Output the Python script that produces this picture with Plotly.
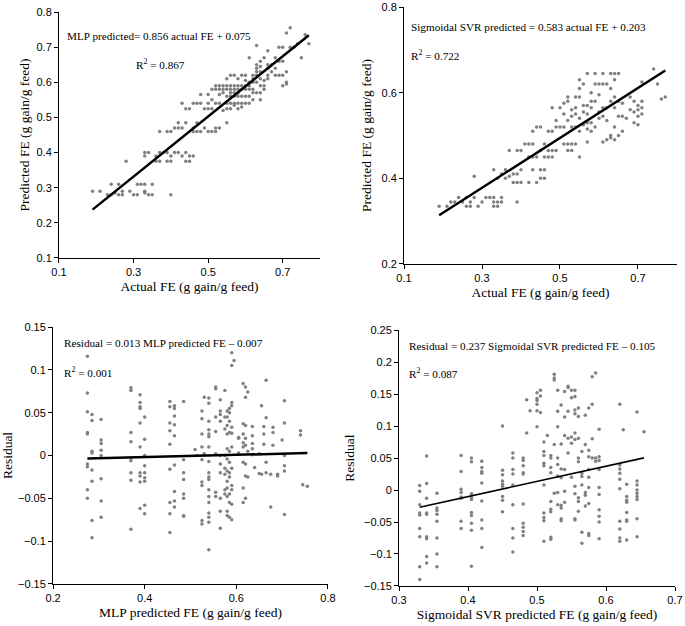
import plotly.graph_objects as go

# ---- data ----
# top-left: actual FE vs MLP predicted FE
mlp_actual = [0.19, 0.21, 0.24, 0.26, 0.23, 0.24, 0.25, 0.26, 0.27, 0.28, 0.29, 0.30, 0.31, 0.32, 0.33,
              0.33, 0.34, 0.35, 0.35, 0.40, 0.27, 0.33, 0.31, 0.33, 0.34, 0.33, 0.36, 0.37, 0.38, 0.39,
              0.36, 0.37, 0.39, 0.40, 0.37, 0.39, 0.40, 0.41, 0.42, 0.43, 0.42, 0.44, 0.41, 0.40, 0.42,
              0.43, 0.44, 0.45, 0.46, 0.44, 0.45, 0.43, 0.44, 0.45, 0.46, 0.47, 0.48, 0.46, 0.47, 0.46,
              0.47, 0.48, 0.48, 0.49, 0.50, 0.51, 0.49, 0.50, 0.51, 0.52, 0.52, 0.53, 0.50, 0.51, 0.52,
              0.53, 0.50, 0.51, 0.52, 0.53, 0.52, 0.53, 0.54, 0.55, 0.56, 0.57, 0.58, 0.54, 0.55, 0.56,
              0.57, 0.58, 0.59, 0.55, 0.56, 0.57, 0.58, 0.59, 0.60, 0.55, 0.54, 0.55, 0.56, 0.57, 0.58,
              0.59, 0.60, 0.55, 0.56, 0.57, 0.58, 0.59, 0.60, 0.61, 0.55, 0.56, 0.58, 0.59, 0.61, 0.60,
              0.61, 0.62, 0.61, 0.62, 0.63, 0.62, 0.63, 0.63, 0.64, 0.63, 0.64, 0.63, 0.64, 0.65, 0.61,
              0.63, 0.66, 0.62, 0.63, 0.64, 0.65, 0.64, 0.65, 0.66, 0.67, 0.68, 0.69, 0.69, 0.70, 0.69,
              0.70, 0.71, 0.70, 0.71, 0.71, 0.72, 0.71, 0.72, 0.73, 0.74, 0.75, 0.76, 0.77, 0.65, 0.66,
              0.62, 0.64, 0.66, 0.67, 0.68, 0.68, 0.70, 0.58, 0.57, 0.56, 0.53, 0.54, 0.59, 0.60, 0.61,
              0.57, 0.60, 0.62, 0.64, 0.66]
mlp_pred = [0.29, 0.29, 0.31, 0.31, 0.28, 0.28, 0.285, 0.28, 0.29, 0.375, 0.29, 0.28, 0.31, 0.31, 0.31,
            0.285, 0.28, 0.31, 0.28, 0.28, 0.28, 0.29, 0.28, 0.40, 0.40, 0.39, 0.39, 0.40, 0.40, 0.40,
            0.375, 0.375, 0.375, 0.375, 0.46, 0.46, 0.46, 0.47, 0.47, 0.47, 0.485, 0.485, 0.40, 0.39, 0.40,
            0.39, 0.40, 0.39, 0.39, 0.375, 0.375, 0.54, 0.525, 0.525, 0.46, 0.46, 0.46, 0.47, 0.485, 0.54,
            0.54, 0.54, 0.565, 0.525, 0.525, 0.525, 0.47, 0.46, 0.46, 0.46, 0.47, 0.47, 0.54, 0.55, 0.54,
            0.54, 0.565, 0.58, 0.58, 0.58, 0.59, 0.59, 0.59, 0.59, 0.59, 0.59, 0.59, 0.58, 0.58, 0.58,
            0.58, 0.58, 0.58, 0.61, 0.62, 0.62, 0.61, 0.62, 0.62, 0.485, 0.52, 0.54, 0.54, 0.54, 0.54,
            0.54, 0.54, 0.56, 0.56, 0.56, 0.56, 0.56, 0.56, 0.56, 0.525, 0.525, 0.525, 0.53, 0.54, 0.58,
            0.58, 0.58, 0.60, 0.60, 0.60, 0.61, 0.62, 0.63, 0.63, 0.64, 0.645, 0.65, 0.66, 0.67, 0.67,
            0.705, 0.69, 0.57, 0.57, 0.57, 0.58, 0.59, 0.59, 0.62, 0.63, 0.67, 0.66, 0.70, 0.70, 0.62,
            0.62, 0.63, 0.59, 0.595, 0.60, 0.70, 0.74, 0.755, 0.70, 0.71, 0.67, 0.735, 0.71, 0.605, 0.61,
            0.55, 0.55, 0.65, 0.65, 0.64, 0.62, 0.66, 0.57, 0.57, 0.57, 0.565, 0.57, 0.59, 0.59, 0.59,
            0.535, 0.605, 0.62, 0.61, 0.64]
mlp_slope, mlp_intercept = 0.856, 0.075

# top-right: actual FE vs sigmoidal SVR predicted FE
svr_actual = [0.19, 0.21, 0.22, 0.23, 0.24, 0.25, 0.26, 0.26, 0.27, 0.27, 0.28, 0.28, 0.29, 0.30, 0.31,
              0.32, 0.33, 0.33, 0.34, 0.33, 0.34, 0.35, 0.35, 0.39, 0.33, 0.34, 0.35, 0.36, 0.37, 0.36,
              0.38, 0.39, 0.40, 0.38, 0.39, 0.40, 0.37, 0.39, 0.40, 0.41, 0.42, 0.43, 0.42, 0.43, 0.44,
              0.45, 0.46, 0.45, 0.46, 0.43, 0.44, 0.45, 0.42, 0.43, 0.44, 0.45, 0.46, 0.47, 0.48, 0.46,
              0.47, 0.48, 0.49, 0.47, 0.48, 0.48, 0.49, 0.49, 0.50, 0.51, 0.50, 0.51, 0.51, 0.52, 0.52,
              0.51, 0.52, 0.53, 0.54, 0.52, 0.53, 0.52, 0.53, 0.54, 0.53, 0.54, 0.55, 0.55, 0.54, 0.54,
              0.55, 0.55, 0.55, 0.56, 0.56, 0.56, 0.57, 0.56, 0.57, 0.57, 0.58, 0.57, 0.58, 0.58, 0.59,
              0.59, 0.59, 0.60, 0.60, 0.61, 0.57, 0.58, 0.59, 0.60, 0.61, 0.61, 0.62, 0.62, 0.61, 0.62,
              0.61, 0.62, 0.63, 0.63, 0.64, 0.63, 0.63, 0.64, 0.64, 0.63, 0.64, 0.65, 0.64, 0.65, 0.66,
              0.65, 0.66, 0.65, 0.64, 0.67, 0.68, 0.69, 0.69, 0.69, 0.70, 0.70, 0.70, 0.71, 0.71, 0.71,
              0.70, 0.71, 0.74, 0.75, 0.76, 0.77, 0.68, 0.66, 0.60, 0.58, 0.57, 0.55, 0.53]
svr_pred = [0.335, 0.335, 0.345, 0.345, 0.355, 0.345, 0.355, 0.335, 0.335, 0.345, 0.355, 0.405, 0.335, 0.345, 0.355,
            0.355, 0.355, 0.335, 0.335, 0.345, 0.345, 0.355, 0.345, 0.345, 0.42, 0.40, 0.41, 0.42, 0.405, 0.40,
            0.39, 0.39, 0.39, 0.41, 0.41, 0.42, 0.465, 0.465, 0.465, 0.48, 0.48, 0.48, 0.39, 0.42, 0.39,
            0.40, 0.40, 0.42, 0.42, 0.51, 0.52, 0.52, 0.45, 0.45, 0.45, 0.465, 0.48, 0.45, 0.45, 0.45,
            0.465, 0.465, 0.465, 0.51, 0.51, 0.565, 0.52, 0.535, 0.52, 0.52, 0.565, 0.55, 0.575, 0.58, 0.59,
            0.48, 0.48, 0.48, 0.48, 0.465, 0.465, 0.535, 0.545, 0.55, 0.52, 0.52, 0.51, 0.45, 0.565, 0.59,
            0.59, 0.61, 0.63, 0.62, 0.57, 0.555, 0.55, 0.525, 0.53, 0.515, 0.53, 0.645, 0.60, 0.58, 0.58,
            0.62, 0.645, 0.62, 0.555, 0.545, 0.485, 0.51, 0.52, 0.54, 0.62, 0.645, 0.62, 0.565, 0.565, 0.49,
            0.485, 0.535, 0.50, 0.495, 0.49, 0.58, 0.645, 0.645, 0.63, 0.61, 0.59, 0.58, 0.565, 0.545, 0.545,
            0.645, 0.51, 0.50, 0.52, 0.54, 0.56, 0.58, 0.555, 0.53, 0.525, 0.56, 0.57, 0.58, 0.55, 0.565,
            0.545, 0.625, 0.655, 0.62, 0.585, 0.59, 0.59, 0.575, 0.595, 0.565, 0.57, 0.54, 0.56]
svr_slope, svr_intercept = 0.583, 0.203

# bottom-left: MLP predicted FE vs residual
mlp_res_x = ([0.275] * 9 + [0.285] * 8 + [0.305] * 8 + [0.37] * 9 + [0.39] * 10 + [0.40] * 9
             + [0.455] * 9 + [0.465] * 9 + [0.485] * 8 + [0.51, 0.515] + [0.525] * 9 + [0.53] * 2
             + [0.54] * 18 + [0.555] * 7 + [0.565] * 10 + [0.575] * 8 + [0.58] * 12 + [0.585] * 11
             + [0.59] * 12 + [0.595] + [0.605] * 3 + [0.615] * 8 + [0.62] * 8 + [0.625] * 3
             + [0.635] * 5 + [0.64] + [0.65] * 2 + [0.655] * 2 + [0.66] * 3 + [0.665] * 4
             + [0.675] * 2 + [0.68] * 3 + [0.69] * 2 + [0.70] + [0.705] * 6 + [0.74] * 2 + [0.745, 0.755])
mlp_res_y = [0.116, 0.073, 0.051, 0.027, 0.025, -0.01, -0.013, -0.04, -0.05,
             0.048, 0.041, 0.005, 0.003, -0.017, -0.03, -0.076, -0.096,
             0.042, 0.018, 0.014, 0.006, 0.0, -0.027, -0.053, -0.072,
             0.079, 0.076, 0.027, 0.016, -0.003, -0.006, -0.02, -0.029, -0.086,
             0.071, 0.062, 0.057, 0.055, 0.038, 0.01, -0.02, -0.024, -0.031, -0.062,
             0.045, 0.019, 0.0, -0.012, -0.02, -0.026, -0.03, -0.058, -0.068,
             0.063, 0.057, 0.038, 0.029, 0.013, -0.016, -0.055, -0.068, -0.09,
             0.058, 0.055, 0.046, 0.036, 0.023, -0.011, -0.042, -0.053, -0.06,
             0.063, -0.005, -0.02, -0.028, -0.045, -0.05, -0.07, -0.071,
             0.007, 0.0,
             0.052, 0.043, 0.025, 0.01, -0.005, -0.031, -0.035, -0.076, -0.08,
             0.068, 0.002,
             0.067, 0.061, 0.04, 0.03, 0.025, 0.022, 0.01, -0.007, -0.02, -0.025, -0.028, -0.04, -0.048,
             -0.055, -0.067, -0.072, -0.078, -0.11,
             0.08, 0.078, 0.045, 0.028, 0.002, -0.043, -0.048,
             0.065, 0.052, 0.048, 0.04, 0.0, -0.01, -0.02, -0.05, -0.065, -0.085,
             0.076, 0.045, 0.031, 0.0, -0.015, -0.022, -0.04, -0.045,
             0.052, 0.045, 0.035, 0.025, 0.008, -0.004, -0.018, -0.03, -0.038, -0.048, -0.065, -0.07,
             0.055, 0.05, 0.04, 0.027, 0.005, -0.008, -0.02, -0.025, -0.045, -0.055, -0.072,
             0.12, 0.105, 0.062, 0.058, 0.033, 0.026, 0.01, -0.015, -0.035, -0.04, -0.057, -0.075,
             0.111,
             0.02, 0.021, 0.003,
             0.084, 0.037, 0.025, 0.015, 0.01, -0.008, -0.038, -0.055,
             0.08, 0.068, 0.035, 0.02, 0.012, -0.01, -0.024, -0.05,
             0.074, 0.005, -0.025,
             0.034, 0.023, 0.014, 0.008, 0.001,
             -0.014,
             -0.021, 0.002,
             0.058, -0.022,
             0.034, 0.025, 0.013,
             0.088, 0.044, -0.008, -0.02,
             -0.06, -0.022,
             0.033, 0.027, 0.012,
             -0.022, -0.024,
             0.018,
             0.064, 0.038, 0.0, -0.012, -0.018, -0.069,
             0.029, 0.024,
             -0.034, -0.036]
mlp_res_slope, mlp_res_intercept = 0.013, -0.007

# bottom-right: sigmoidal SVR predicted FE vs residual
svr_res_x = ([0.33] * 9 + [0.34] * 9 + [0.355] * 8 + [0.39] * 8 + [0.405] * 10 + [0.42] * 9
             + [0.45] * 9 + [0.465] * 9 + [0.48] * 10 + [0.485] * 2 + [0.49] + [0.50] * 6
             + [0.505] * 3 + [0.51] * 10 + [0.515] + [0.52] * 9 + [0.525] * 5 + [0.53] * 8
             + [0.535] * 8 + [0.54] * 6 + [0.545] * 5 + [0.55] * 5 + [0.555] * 10 + [0.56] * 8
             + [0.565] * 6 + [0.57] * 5 + [0.575] * 9 + [0.58] * 4 + [0.585] * 3 + [0.59] * 10
             + [0.62] * 10 + [0.625] + [0.63] * 8 + [0.645] * 9 + [0.655])
svr_res_y = [0.007, -0.002, -0.023, -0.036, -0.039, -0.06, -0.073, -0.12, -0.14,
             0.053, 0.01, -0.013, -0.036, -0.038, -0.073, -0.076, -0.104, -0.114,
             -0.005, -0.028, -0.032, -0.038, -0.049, -0.075, -0.1, -0.12,
             0.054, 0.029, 0.001, -0.004, -0.011, -0.013, -0.049, -0.06,
             0.05, 0.044, -0.006, -0.012, -0.015, -0.035, -0.04, -0.052, -0.063, -0.119,
             0.045, 0.035, 0.029, 0.026, 0.011, -0.017, -0.047, -0.06, -0.09,
             0.1, 0.031, 0.024, 0.014, 0.009, 0.006, -0.01, -0.016, -0.034,
             0.058, 0.05, 0.032, 0.025, 0.008, -0.023, -0.06, -0.075, -0.097,
             0.05, 0.046, 0.038, 0.027, 0.025, -0.022, -0.052, -0.058, -0.065, -0.071,
             0.141, 0.089,
             0.124,
             0.14, 0.152, 0.134, 0.124, 0.099, 0.143,
             0.156, 0.147, 0.121,
             0.075, 0.06, 0.054, 0.042, 0.038, 0.008, -0.036, -0.043, -0.048, -0.08,
             0.085,
             0.054, 0.05, 0.035, 0.027, -0.018, -0.03, -0.034, -0.074, -0.077,
             0.181, 0.175, 0.172, 0.071, -0.005,
             0.123, 0.099, 0.156, 0.05, 0.04, 0.022, -0.004, -0.023,
             0.133, 0.072, 0.033, 0.019, -0.024, -0.028, -0.045, -0.048,
             0.154, 0.114, 0.085, 0.032, -0.002, -0.019,
             0.162, 0.16, 0.123, 0.081, 0.058,
             0.156, 0.144, 0.083, 0.073, 0.02,
             0.156, 0.146, 0.125, 0.119, 0.089, 0.079, 0.006, -0.006, -0.045, -0.047,
             0.128, 0.115, 0.081, 0.044, 0.05, -0.012, -0.018, -0.033,
             0.06, 0.026, 0.021, 0.008, -0.066, -0.083,
             0.117, 0.071, -0.004, -0.008, -0.025,
             0.128, 0.062, 0.052, 0.032, 0.02, 0.004, -0.021, -0.068, -0.071,
             0.177, 0.134, 0.08, 0.05,
             0.183, 0.05, 0.045,
             0.095, 0.052, 0.046, 0.032, 0.004, -0.007, -0.031, -0.041, -0.05, -0.076,
             0.134, 0.039, 0.033, 0.026, 0.017, 0.002, -0.049, -0.061, -0.075, -0.08,
             0.094,
             0.009, -0.01, -0.016, -0.019, -0.035, -0.047, -0.049, -0.078,
             0.122, 0.014, 0.008, 0.0, -0.005, -0.01, -0.015, -0.045, -0.073,
             0.091]
svr_res_slope, svr_res_intercept = 0.237, -0.105

panels = [
    dict(x=mlp_actual, y=mlp_pred, slope=mlp_slope, icpt=mlp_intercept, lw=2.5,
         xr=[0.1, 0.8], xt=[0.1, 0.3, 0.5, 0.7], yr=[0.1, 0.8], yt=[0.1, 0.2, 0.3, 0.4, 0.5, 0.6, 0.7, 0.8],
         xtitle="Actual FE (g gain/g feed)", ytitle="Predicted FE (g gain/g feed)",
         xdom=[0.0861, 0.4672], ydom=[0.5879, 0.9808], ystand=3),
    dict(x=svr_actual, y=svr_pred, slope=svr_slope, icpt=svr_intercept, lw=2.5,
         xr=[0.1, 0.8], xt=[0.1, 0.3, 0.5, 0.7], yr=[0.2, 0.8], yt=[0.2, 0.4, 0.6, 0.8],
         xtitle="Actual FE (g gain/g feed)", ytitle="Predicted FE (g gain/g feed)",
         xdom=[0.5898, 0.9883], ydom=[0.5783, 0.9888], ystand=6),
    dict(x=mlp_res_x, y=mlp_res_y, slope=mlp_res_slope, icpt=mlp_res_intercept, lw=2.5,
         xr=[0.2, 0.8], xt=[0.2, 0.4, 0.6, 0.8], yr=[-0.15, 0.15],
         yt=[-0.15, -0.1, -0.05, 0, 0.05, 0.1, 0.15],
         xtitle="MLP predicted FE (g gain/g feed)", ytitle="Residual",
         xdom=[0.0774, 0.4788], ydom=[0.0671, 0.4776], ystand=4),
    dict(x=svr_res_x, y=svr_res_y, slope=svr_res_slope, icpt=svr_res_intercept, lw=1.6,
         xr=[0.3, 0.7], xt=[0.3, 0.4, 0.5, 0.6, 0.7], yr=[-0.15, 0.25],
         yt=[-0.15, -0.1, -0.05, 0, 0.05, 0.1, 0.15, 0.2, 0.25],
         xtitle="Sigmoidal SVR predicted FE (g gain/g feed)", ytitle="Residual",
         xdom=[0.5825, 0.9854], ydom=[0.0639, 0.4728], ystand=6),
]

equations = [
    ("MLP predicted= 0.856 actual FE + 0.075", "R<sup>2</sup> = 0.867", 0.0949, 0.9425, 0.1956, 0.8978),
    ("Sigmoidal SVR predicted = 0.583 actual FE + 0.203", "R<sup>2</sup> = 0.722", 0.5971, 0.9569, 0.5971, 0.9121),
    ("Residual = 0.013 MLP predicted FE \u2013 0.007", "R<sup>2</sup> = 0.001", 0.0905, 0.4521, 0.0905, 0.4058),
    ("Residual = 0.237 Sigmoidal SVR predicted FE \u2013 0.105", "R<sup>2</sup> = 0.087", 0.5942, 0.4473, 0.5942, 0.4042),
]

serif = "Liberation Serif, Times New Roman, serif"
sans = "Liberation Sans, Arial, sans-serif"

fig = go.Figure()
layout = {}
for i, p in enumerate(panels):
    n = "" if i == 0 else str(i + 1)
    xa, ya = "x" + n, "y" + n
    fig.add_trace(go.Scatter(x=p["x"], y=p["y"], mode="markers", xaxis=xa, yaxis=ya,
                             marker=dict(color="#808080", size=3.5), showlegend=False))
    lx = [min(p["x"]), max(p["x"])]
    ly = [p["slope"] * v + p["icpt"] for v in lx]
    fig.add_trace(go.Scatter(x=lx, y=ly, mode="lines", xaxis=xa, yaxis=ya,
                             line=dict(color="black", width=p["lw"]), showlegend=False))
    axis_common = dict(showgrid=False, zeroline=False, showline=True, linecolor="black", linewidth=1,
                       ticks="outside", ticklen=4, tickcolor="black", automargin=False,
                       tickfont=dict(family=sans, size=11, color="black"))
    layout["xaxis" + n] = dict(domain=p["xdom"], range=p["xr"], tickvals=p["xt"], anchor=ya,
                               title=dict(text=p["xtitle"], font=dict(family=serif, size=13.5, color="black"),
                                          standoff=4), **axis_common)
    layout["yaxis" + n] = dict(domain=p["ydom"], range=p["yr"], tickvals=p["yt"], anchor=xa,
                               title=dict(text=p["ytitle"], font=dict(family=serif, size=13.5, color="black"),
                                          standoff=p["ystand"]), **axis_common)

annotations = []
for eq, r2, x1, y1, x2, y2 in equations:
    annotations.append(dict(text=eq, x=x1, y=y1, xref="paper", yref="paper", xanchor="left",
                            yanchor="middle", showarrow=False, font=dict(family=serif, size=11.2, color="black")))
    annotations.append(dict(text=r2, x=x2, y=y2, xref="paper", yref="paper", xanchor="left",
                            yanchor="middle", showarrow=False, font=dict(family=serif, size=11.2, color="black")))

fig.update_layout(**layout)
fig.update_layout(width=685, height=626, margin=dict(l=0, r=0, t=0, b=0),
                  plot_bgcolor="white", paper_bgcolor="white", annotations=annotations)

# drop the browser's default body margin so the figure sits at the window's corner
fig.write_html("out.html", config={"displayModeBar": False},
               post_script="document.body.style.margin = '0px';")
